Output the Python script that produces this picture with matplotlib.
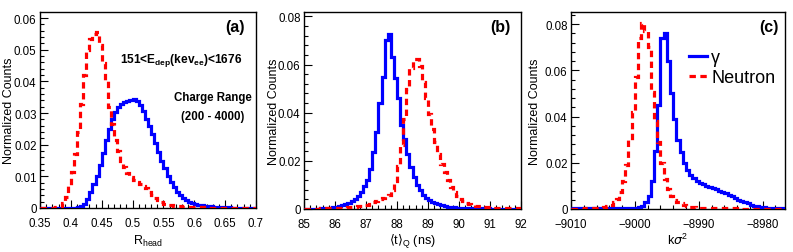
import numpy as np
import matplotlib
matplotlib.use("Agg")
import matplotlib.pyplot as plt
from matplotlib.ticker import MultipleLocator, FuncFormatter
from matplotlib.lines import Line2D

plt.rcParams['font.family'] = ['Liberation Sans', 'DejaVu Sans']

# ---------------- Panel (a): R_head ----------------
a_lo, a_w = 0.35, 0.005
a_gamma = [0.0001, 0.0001, 0.0001, 0.0001, 0.0001, 0.0001, 0.0001, 0.0001, 0.0001, 0.0001,
           0.0001, 0.0001, 0.0002, 0.0005, 0.0012, 0.0028, 0.0050, 0.0076, 0.0102, 0.0135,
           0.0175, 0.0215, 0.0250, 0.0280, 0.0302, 0.0318, 0.0328, 0.0334, 0.0338, 0.0342,
           0.0343, 0.0338, 0.0325, 0.0305, 0.0282, 0.0260, 0.0235, 0.0205, 0.0178, 0.0150,
           0.0125, 0.0102, 0.0082, 0.0066, 0.0052, 0.0040, 0.0031, 0.0024, 0.0019, 0.0015,
           0.0012, 0.0010, 0.0008, 0.0007, 0.0006, 0.0005, 0.0004, 0.0003, 0.0003, 0.0002,
           0.0002, 0.0002, 0.0001, 0.0001, 0.0001, 0.0001, 0.0001, 0.0001, 0.0001, 0.0001]
a_neutron = [0.0000, 0.0000, 0.0000, 0.0000, 0.0001, 0.0002, 0.0004, 0.0015, 0.0035, 0.0072,
             0.0115, 0.0170, 0.0240, 0.0330, 0.0420, 0.0500, 0.0535, 0.0548, 0.0556, 0.0515,
             0.0458, 0.0400, 0.0320, 0.0265, 0.0215, 0.0180, 0.0150, 0.0128, 0.0112, 0.0098,
             0.0088, 0.0082, 0.0076, 0.0070, 0.0062, 0.0052, 0.0042, 0.0032, 0.0024, 0.0018,
             0.0014, 0.0011, 0.0009, 0.0007, 0.0006, 0.0005, 0.0004, 0.0003, 0.0003, 0.0002,
             0.0002, 0.0002, 0.0002, 0.0001, 0.0001, 0.0001, 0.0001, 0.0001, 0.0001, 0.0001,
             0.0001, 0.0001, 0.0001, 0.0001, 0.0001, 0.0001, 0.0001, 0.0001, 0.0001, 0.0001]

# ---------------- Panel (b): <t>_Q ----------------
b_lo, b_w = 85.0, 0.1
b_gamma = [0.0002, 0.0002, 0.0002, 0.0002, 0.0002, 0.0004, 0.0004, 0.0004, 0.0005, 0.0007,
           0.0010, 0.0012, 0.0016, 0.0020, 0.0026, 0.0033, 0.0042, 0.0055, 0.0072, 0.0095,
           0.0120, 0.0165, 0.0235, 0.0320, 0.0440, 0.0550, 0.0700, 0.0725, 0.0630, 0.0545,
           0.0460, 0.0350, 0.0290, 0.0228, 0.0175, 0.0132, 0.0100, 0.0078, 0.0060, 0.0047,
           0.0037, 0.0030, 0.0024, 0.0019, 0.0015, 0.0012, 0.0010, 0.0008, 0.0007, 0.0006,
           0.0005, 0.0004, 0.0004, 0.0004, 0.0004, 0.0003, 0.0003, 0.0003, 0.0003, 0.0003,
           0.0002, 0.0002, 0.0002, 0.0002, 0.0002, 0.0002, 0.0002, 0.0002, 0.0002, 0.0002]
b_neutron = [0.0002, 0.0002, 0.0002, 0.0002, 0.0002, 0.0003, 0.0003, 0.0003, 0.0003, 0.0004,
             0.0004, 0.0005, 0.0005, 0.0006, 0.0007, 0.0008, 0.0009, 0.0011, 0.0013, 0.0015,
             0.0018, 0.0022, 0.0028, 0.0034, 0.0040, 0.0046, 0.0052, 0.0060, 0.0080, 0.0118,
             0.0180, 0.0265, 0.0375, 0.0500, 0.0585, 0.0622, 0.0622, 0.0595, 0.0528, 0.0460,
             0.0395, 0.0333, 0.0278, 0.0230, 0.0188, 0.0152, 0.0120, 0.0092, 0.0070, 0.0055,
             0.0043, 0.0034, 0.0026, 0.0021, 0.0017, 0.0014, 0.0012, 0.0010, 0.0009, 0.0008,
             0.0007, 0.0006, 0.0005, 0.0005, 0.0004, 0.0003, 0.0003, 0.0003, 0.0003, 0.0003]

# ---------------- Panel (c): k sigma^2 ----------------
c_lo, c_w = -9010.0, 0.5
c_gamma = [0.0003, 0.0003, 0.0003, 0.0003, 0.0003, 0.0003, 0.0003, 0.0003, 0.0003, 0.0003,
           0.0003, 0.0003, 0.0003, 0.0003, 0.0003, 0.0003, 0.0003, 0.0003, 0.0003, 0.0003,
           0.0005, 0.0008, 0.0015, 0.0030, 0.0055, 0.0120, 0.0250, 0.0450, 0.0740, 0.0762,
           0.0640, 0.0500, 0.0390, 0.0300, 0.0245, 0.0200, 0.0170, 0.0148, 0.0132, 0.0120,
           0.0112, 0.0106, 0.0100, 0.0095, 0.0090, 0.0085, 0.0080, 0.0074, 0.0068, 0.0062,
           0.0055, 0.0048, 0.0041, 0.0035, 0.0029, 0.0024, 0.0019, 0.0015, 0.0012, 0.0009,
           0.0007, 0.0005, 0.0004, 0.0003, 0.0003, 0.0003, 0.0003]
c_neutron = [0.0002, 0.0002, 0.0002, 0.0002, 0.0003, 0.0003, 0.0003, 0.0004, 0.0005, 0.0006,
             0.0008, 0.0012, 0.0018, 0.0030, 0.0045, 0.0075, 0.0120, 0.0190, 0.0300, 0.0420,
             0.0570, 0.0740, 0.0805, 0.0770, 0.0700, 0.0505, 0.0380, 0.0290, 0.0200, 0.0130,
             0.0085, 0.0055, 0.0040, 0.0030, 0.0024, 0.0018, 0.0013, 0.0010, 0.0008, 0.0006,
             0.0005, 0.0004, 0.0003, 0.0003, 0.0003, 0.0003, 0.0003, 0.0003, 0.0003, 0.0003,
             0.0003, 0.0003, 0.0003, 0.0002, 0.0002, 0.0002, 0.0002, 0.0002, 0.0002, 0.0002,
             0.0002, 0.0002, 0.0002, 0.0002, 0.0002, 0.0002, 0.0002]

W, H = 793, 253
fig = plt.figure(figsize=(W / 100, H / 100), dpi=100)

def add_ax(l, r, t, b):
    return fig.add_axes([l / W, (H - b) / H, (r - l) / W, (b - t) / H])

ax_a = add_ax(40, 256, 13, 209)
ax_b = add_ax(304, 521, 13, 210)
ax_c = add_ax(571, 785, 13, 210)

BLUE = '#0000ff'
RED = '#ff0000'
fs = 8.3
LW = 2.3
DASH = (0, (2.0, 1.4))

def yfmt(v, pos):
    if abs(v) < 1e-9:
        return '0'
    return '%.2f' % v

def style(ax, xlim, ylim, xmaj, xmin, ymaj, ymin, xfmt, ylab_x):
    ax.set_xlim(*xlim)
    ax.set_ylim(*ylim)
    ax.xaxis.set_major_locator(MultipleLocator(xmaj))
    ax.xaxis.set_minor_locator(MultipleLocator(xmin))
    ax.yaxis.set_major_locator(MultipleLocator(ymaj))
    ax.yaxis.set_minor_locator(MultipleLocator(ymin))
    ax.yaxis.set_major_formatter(FuncFormatter(yfmt))
    ax.xaxis.set_major_formatter(FuncFormatter(xfmt))
    ax.tick_params(which='both', direction='in', top=False, right=False,
                   labelsize=fs, width=0.8, color='black')
    ax.tick_params(axis='x', which='both', pad=6.5)
    ax.tick_params(axis='y', which='both', pad=2.5)
    ax.tick_params(which='major', length=6)
    ax.tick_params(which='minor', length=3)
    for s in ax.spines.values():
        s.set_linewidth(1.0)
    ax.set_ylabel('Normalized Counts', fontsize=9.0)
    ax.yaxis.set_label_coords(ylab_x, 0.5)

def draw(ax, lo, w, gam, neu):
    edges_g = lo + w * np.arange(len(gam) + 1)
    edges_n = lo + w * np.arange(len(neu) + 1)
    ax.stairs(gam, edges_g, baseline=None, color=BLUE, linewidth=LW, zorder=3)
    ax.stairs(neu, edges_n, baseline=None, color=RED, linewidth=LW,
              linestyle=DASH, zorder=4)

draw(ax_a, a_lo, a_w, a_gamma, a_neutron)
draw(ax_b, b_lo, b_w, b_gamma, b_neutron)
draw(ax_c, c_lo, c_w, c_gamma, c_neutron)

def afmt(v, pos):
    return ('%.2f' % v).rstrip('0').rstrip('.')

style(ax_a, (0.35, 0.70), (0, 0.0619), 0.05, 0.01, 0.01, 0.002, afmt, -0.118)
style(ax_b, (85, 92), (0, 0.0818), 1, 0.2, 0.02, 0.004,
      lambda v, p: '%d' % round(v), -0.112)
style(ax_c, (-9010, -8976.5), (0, 0.0852), 10, 2, 0.02, 0.004,
      lambda v, p: ('%d' % round(v)).replace('-', '\u2212'), -0.142)

ax_a.set_xlabel(r'R$_{\mathregular{head}}$', fontsize=9.0, labelpad=2.5)
ax_b.set_xlabel(r'$\langle$t$\rangle_{\mathregular{Q}}$ (ns)', fontsize=9.0, labelpad=1.5)
ax_c.set_xlabel(r'k$\sigma^{\mathregular{2}}$', fontsize=9.0, labelpad=1.5)

# panel tags
for ax, tag, xr in ((ax_a, '(a)', 0.95), (ax_b, '(b)', 0.95), (ax_c, '(c)', 0.97)):
    ax.text(xr, 0.965, tag, transform=ax.transAxes, ha='right', va='top',
            fontsize=11.5, fontweight='bold')

ax_a.text(0.655, 0.76, r'151<E$_{\mathregular{dep}}$(kev$_{\mathregular{ee}}$)<1676',
          transform=ax_a.transAxes, ha='center', va='center', fontsize=8.6,
          fontweight='bold')
ax_a.text(0.80, 0.566, 'Charge Range', transform=ax_a.transAxes, ha='center',
          va='center', fontsize=8.3, fontweight='bold')
ax_a.text(0.80, 0.47, '(200 - 4000)', transform=ax_a.transAxes, ha='center',
          va='center', fontsize=8.3, fontweight='bold')

# legend in (c)
handles = [Line2D([], [], color=BLUE, linewidth=LW),
           Line2D([], [], color=RED, linewidth=LW, linestyle=DASH)]
ax_c.legend(handles, ['\u03b3', 'Neutron'], loc='upper left',
            bbox_to_anchor=(0.55, 0.81), frameon=False, fontsize=13,
            handlelength=1.0, handletextpad=0.25, labelspacing=0.15,
            borderaxespad=0, borderpad=0)

fig.savefig('out.png', dpi=100)
